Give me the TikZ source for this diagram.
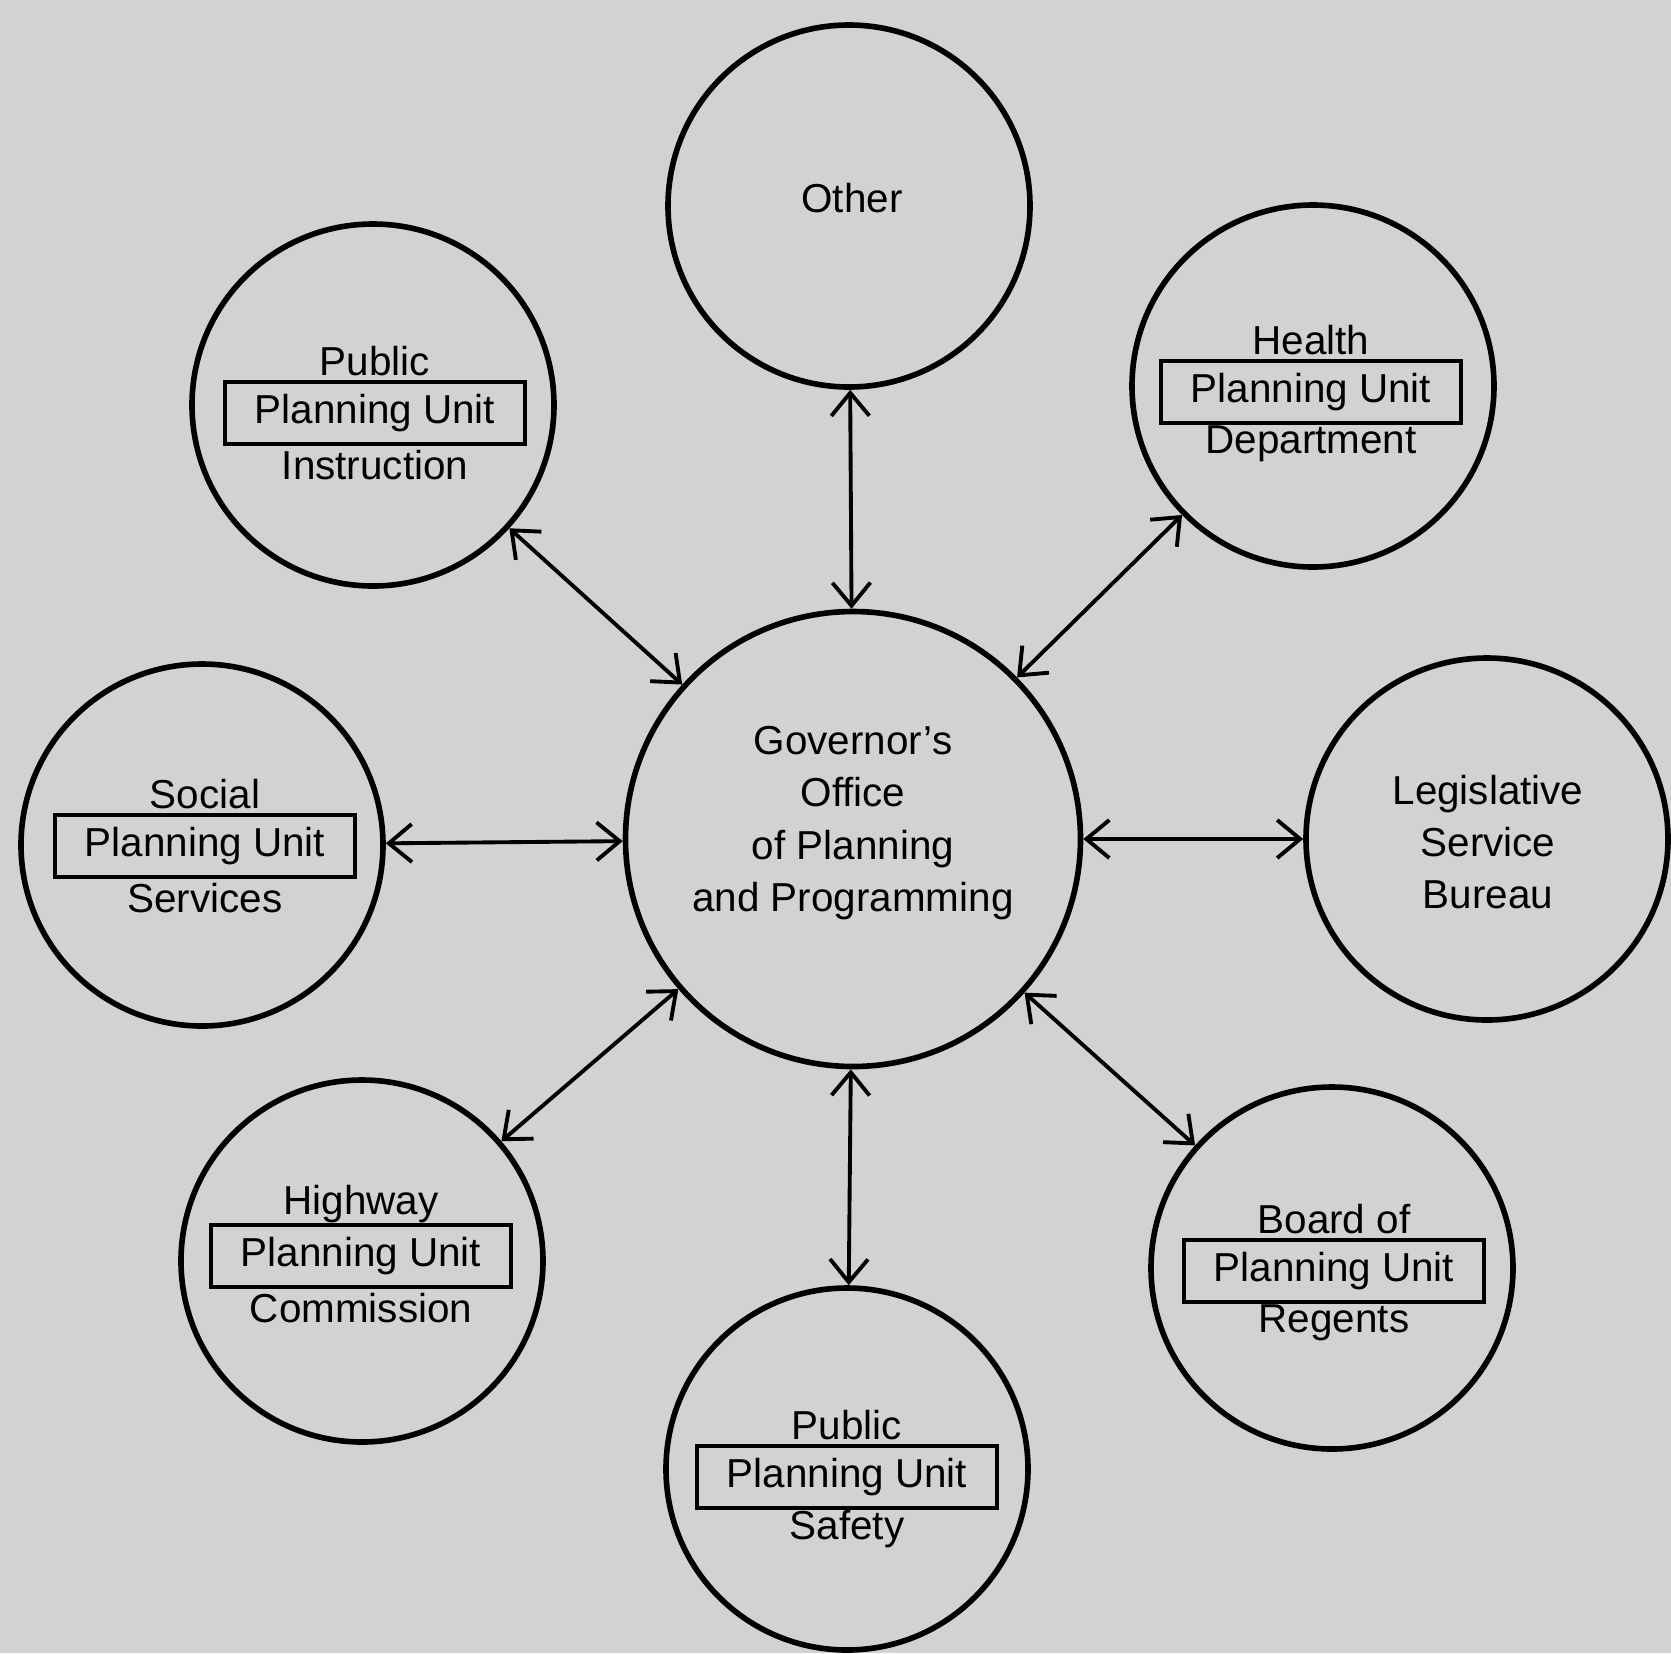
\documentclass[tikz,border=0pt]{standalone}
\usepackage{fontspec}
\setmainfont{Liberation Sans}
\usetikzlibrary{arrows.meta, positioning}
\definecolor{paper}{RGB}{210,210,213}

\begin{document}
\begin{tikzpicture}[
    office/.style={circle, draw, line width=1.6pt, minimum size=3.62cm, inner sep=0pt},
    hub/.style={office, minimum size=4.55cm},
    unitbox/.style={rectangle, draw, line width=1.2pt, minimum width=3.0cm, minimum height=0.62cm, inner sep=0pt, font=\fontsize{11.5}{14.9}\selectfont},
    lbl/.style={inner sep=0pt, align=center, font=\fontsize{11.5}{14.9}\selectfont},
    arr/.style={{Straight Barb[length=2.3mm, width=3.8mm]}-{Straight Barb[length=2.3mm, width=3.8mm]}, line width=1.1pt},
]
    \fill[paper] (0,0) rectangle (16.71,-16.53);
    \useasboundingbox (0,0) rectangle (16.71,-16.53);

    % circles
    \node[hub] (gov) at (8.53,-8.39) {};
    \node[office] (other) at (8.49,-2.06) {};
    \node[office] (pubinst) at (3.73,-4.05) {};
    \node[office] (health) at (13.13,-3.86) {};
    \node[office] (social) at (2.02,-8.45) {};
    \node[office] (legis) at (14.87,-8.39) {};
    \node[office] (highway) at (3.62,-12.61) {};
    \node[office] (safety) at (8.47,-14.69) {};
    \node[office] (regents) at (13.32,-12.68) {};

    % texts
    \node[lbl] (gov-t) at (8.53,-8.23) {Governor's\\Office\\of Planning\\and Programming};
    \node[lbl] (other-t) at (8.52,-1.98) {Other};
    \node[lbl] (legis-t) at (14.88,-8.42) {Legislative\\Service\\Bureau};

    \node[unitbox] (pubinst-u) at (3.75,-4.13) {Planning Unit};
    \node[lbl] at ([yshift=0.52cm]pubinst-u) {Public};
    \node[lbl] at ([yshift=-0.52cm]pubinst-u) {Instruction};

    \node[unitbox] (health-u) at (13.11,-3.92) {Planning Unit};
    \node[lbl] at ([yshift=0.52cm]health-u) {Health};
    \node[lbl] at ([yshift=-0.52cm]health-u) {Department};

    \node[unitbox] (social-u) at (2.05,-8.46) {Planning Unit};
    \node[lbl] at ([yshift=0.52cm]social-u) {Social};
    \node[lbl] at ([yshift=-0.52cm]social-u) {Services};

    \node[unitbox] (highway-u) at (3.61,-12.56) {Planning Unit};
    \node[lbl] at ([yshift=0.52cm]highway-u) {Highway};
    \node[lbl] at ([yshift=-0.52cm]highway-u) {Commission};

    \node[unitbox] (safety-u) at (8.47,-14.77) {Planning Unit};
    \node[lbl] at ([yshift=0.52cm]safety-u) {Public};
    \node[lbl] at ([yshift=-0.52cm]safety-u) {Safety};

    \node[unitbox] (regents-u) at (13.34,-12.71) {Planning Unit};
    \node[lbl] at ([yshift=0.52cm]regents-u) {Board of};
    \node[lbl] at ([yshift=-0.52cm]regents-u) {Regents};

    % links
    \draw[arr] (other) -- (gov);
    \draw[arr] (pubinst) -- (gov);
    \draw[arr] (health) -- (gov);
    \draw[arr] (social) -- (gov);
    \draw[arr] (legis) -- (gov);
    \draw[arr] (highway) -- (gov);
    \draw[arr] (safety) -- (gov);
    \draw[arr] (regents) -- (gov);
\end{tikzpicture}
\end{document}
